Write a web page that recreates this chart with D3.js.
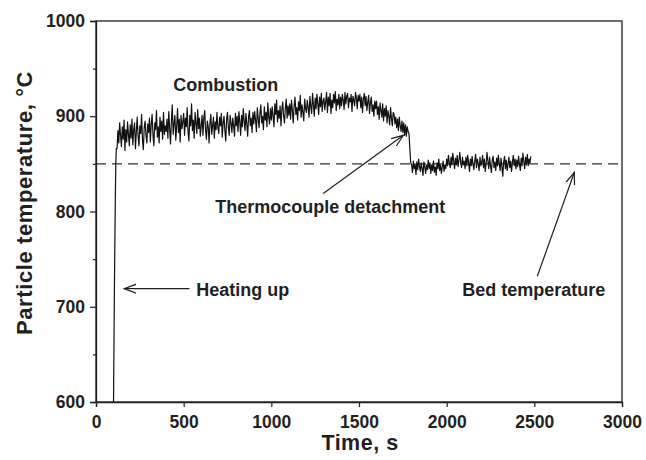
<!DOCTYPE html>
<html>
<head>
<meta charset="utf-8">
<script src="https://cdn.jsdelivr.net/npm/d3@7"></script>
<style>
  body { margin: 0; background: #fff; }
  text { font-family: "Liberation Sans", Arial, sans-serif; font-weight: bold; fill: #231f20; }
</style>
</head>
<body>
<script>
// heating-up segment (s, degC)
var heatTime = [100, 105, 110, 113, 116];
var heatTemp = [600, 720, 810, 850, 866];

// particle temperature, sampled every 5 s from 120 s to 2480 s
var sampleStart = 120, sampleStep = 5;
var particleTemp = [
  866, 885, 872, 893, 880, 868, 889, 876, 896, 864, 886, 873, 894, 881, 869, 891,
  877, 897, 870, 886, 893, 866, 884, 899, 879, 869, 890, 882, 902, 875, 865, 888, 895, 880, 872, 892,
  883, 898, 873, 891, 902, 880, 869, 893, 886, 906, 878, 889, 872, 899, 884, 895, 876, 904, 881, 890,
  884, 897, 877, 905, 887, 871, 895, 912, 881, 892, 901, 875, 889, 908, 883, 897, 873, 901, 887, 894,
  903, 880, 898, 889, 909, 883, 874, 901, 890, 913, 885, 896, 877, 904, 893, 882, 907, 887, 898, 879,
  890, 901, 880, 898, 906, 885, 876, 895, 889, 872, 893, 902, 881, 890, 899, 877, 894, 886, 904, 888,
  882, 899, 890, 903, 878, 893, 900, 885, 874, 897, 904, 888, 880, 901, 893, 883, 898, 890, 879, 903,
  890, 900, 884, 905, 894, 880, 901, 889, 908, 895, 885, 903, 892, 879, 899, 906, 890, 898, 883, 904,
  892, 905, 896, 884, 909, 898, 888, 903, 912, 893, 900, 886, 910, 896, 904, 889, 914, 899, 892, 908,
  896, 910, 900, 889, 913, 902, 917, 894, 906, 898, 911, 890, 907, 915, 900, 893, 909, 918, 898, 911,
  901, 913, 897, 917, 906, 893, 911, 920, 902, 909, 896, 915, 906, 922, 899, 912, 904, 895, 918, 908,
  904, 917, 909, 899, 921, 910, 903, 924, 912, 900, 919, 908, 923, 913, 902, 920, 910, 924, 905, 916,
  919, 907, 915, 925, 904, 920, 911, 924, 903, 917, 909, 923, 914, 926, 906, 918, 912, 923, 908, 920,
  911, 923, 917, 907, 925, 913, 921, 924, 909, 919, 915, 923, 905, 921, 917, 911, 925, 919, 908, 922,
  916, 923, 909, 920, 904, 918, 924, 911, 921, 906, 915, 922, 903, 914, 920, 905, 912, 900, 916, 908,
  916, 902, 910, 897, 914, 906, 899, 913, 895, 908, 900, 911, 893, 906, 900, 891, 909, 898, 890, 904,
  902, 892, 899, 888, 897, 885, 899, 890, 884, 895, 883, 893, 880, 891, 879, 889, 884,
  // thermocouple detaches
  882, 866, 851,
  849, 841, 853, 845, 850, 839, 852, 844, 855, 847, 842, 851, 845, 838, 852, 847, 840, 849, 844, 854,
  845, 851, 840, 849, 843, 853, 841, 847, 838, 851, 845, 855, 843, 849, 840, 847, 853, 842, 849, 845,
  855, 848, 859, 851, 846, 857, 849, 861, 853, 845, 856, 849, 859, 847, 854, 862, 851, 846, 857, 849,
  853, 845, 857, 848, 859, 851, 842, 855, 848, 858, 850, 844, 853, 860, 846, 855, 850, 843, 857, 848,
  852, 859, 846, 855, 842, 850, 862, 853, 845, 857, 848, 841, 854, 858, 846, 852, 843, 856, 848, 859,
  850, 843, 856, 847, 837, 852, 858, 845, 854, 843, 850, 857, 846, 853, 842, 852, 859, 848, 855, 845,
  854, 847, 858, 850, 843, 856, 848, 861, 852, 845, 857, 849, 860, 848, 855, 851, 858
];

var bedTemp = 850;

var xTicks = [0, 500, 1000, 1500, 2000, 2500, 3000];
var yTicks = [600, 700, 800, 900, 1000];
var yMinorTicks = [650, 750, 850, 950];

// annotations in data units: label position, arrow start, arrow tip
var labels = [
  { text: "Combustion", t: 441, v: 926 },
  { text: "Thermocouple detachment", t: 680, v: 798 },
  { text: "Heating up", t: 572, v: 711 },
  { text: "Bed temperature", t: 2089, v: 711 }
];
var arrows = [
  { t0: 533, v0: 719, t1: 161, v1: 719 },
  { t0: 1296, v0: 819, t1: 1753, v1: 880 },
  { t0: 2517, v0: 732, t1: 2728, v1: 841 }
];

var width = 646, height = 460;
var margin = { top: 21, right: 24, bottom: 58, left: 96 };
var w = width - margin.left - margin.right, h = height - margin.top - margin.bottom;

var data = heatTime.map(function(t, i) { return { t: t, v: heatTemp[i] }; })
  .concat(particleTemp.map(function(v, i) { return { t: sampleStart + i * sampleStep, v: v }; }));

var svg = d3.select("body").append("svg")
    .attr("width", width)
    .attr("height", height);

var g = svg.append("g").attr("transform", "translate(" + margin.left + "," + margin.top + ")");

var x = d3.scaleLinear().domain([0, 3000]).range([0, w]);
var y = d3.scaleLinear().domain([600, 1000]).range([h, 0]);

// open arrow head
svg.append("defs").append("marker")
    .attr("id", "head")
    .attr("markerUnits", "userSpaceOnUse")
    .attr("markerWidth", 14).attr("markerHeight", 12)
    .attr("viewBox", "0 -6 14 12")
    .attr("refX", 12).attr("refY", 0)
    .attr("orient", "auto")
  .append("path")
    .attr("d", "M0,-4.5L12,0L0,4.5")
    .attr("fill", "none")
    .attr("stroke", "#231f20")
    .attr("stroke-width", 1.2);

// bed temperature
g.append("line")
    .attr("x1", x(0)).attr("x2", x(3000))
    .attr("y1", y(bedTemp)).attr("y2", y(bedTemp))
    .attr("stroke", "#333")
    .attr("stroke-width", 1.3)
    .attr("stroke-dasharray", "10,6");

var line = d3.line()
    .x(function(d) { return x(d.t); })
    .y(function(d) { return y(d.v); });

g.append("path")
    .datum(data)
    .attr("d", line)
    .attr("fill", "none")
    .attr("stroke", "#111")
    .attr("stroke-width", 1.2)
    .attr("stroke-linejoin", "round");

// axes
var fmt = d3.format("d");

g.append("g")
    .attr("transform", "translate(0," + h + ")")
    .call(d3.axisBottom(x).tickValues(xTicks).tickFormat(fmt).tickSize(5).tickPadding(9));

g.append("g")
    .call(d3.axisLeft(y).tickValues(yTicks).tickFormat(fmt).tickSize(6).tickPadding(5));

g.append("g")
    .call(d3.axisLeft(y).tickValues(yMinorTicks).tickSize(3).tickFormat(""))
    .select(".domain").remove();

g.selectAll(".tick line").attr("stroke", "#231f20").attr("stroke-width", 1.2);
g.selectAll(".domain").attr("stroke", "#231f20").attr("stroke-width", 1.3);
g.selectAll(".tick text").style("font-size", "17.5px").attr("fill", "#231f20");

// frame
g.append("rect")
    .attr("width", w).attr("height", h)
    .attr("fill", "none")
    .attr("stroke", "#231f20")
    .attr("stroke-width", 1.3);

// axis titles
svg.append("text")
    .attr("x", margin.left + w / 2 + 1)
    .attr("y", 450)
    .attr("text-anchor", "middle")
    .style("font-size", "21.5px")
    .style("letter-spacing", "0.5px")
    .text("Time, s");

svg.append("text")
    .attr("transform", "translate(32,203) rotate(-90)")
    .attr("text-anchor", "middle")
    .style("font-size", "22px")
    .style("letter-spacing", "0.6px")
    .text("Particle temperature, \u00b0C");

// annotations
g.selectAll(".label")
    .data(labels)
  .enter().append("text")
    .attr("class", "label")
    .attr("x", function(d) { return x(d.t); })
    .attr("y", function(d) { return y(d.v); })
    .style("font-size", "18px")
    .text(function(d) { return d.text; });

g.selectAll(".arrow")
    .data(arrows)
  .enter().append("line")
    .attr("class", "arrow")
    .attr("x1", function(d) { return x(d.t0); })
    .attr("y1", function(d) { return y(d.v0); })
    .attr("x2", function(d) { return x(d.t1); })
    .attr("y2", function(d) { return y(d.v1); })
    .attr("stroke", "#231f20")
    .attr("stroke-width", 1.2)
    .attr("marker-end", "url(#head)");
</script>
</body>
</html>
